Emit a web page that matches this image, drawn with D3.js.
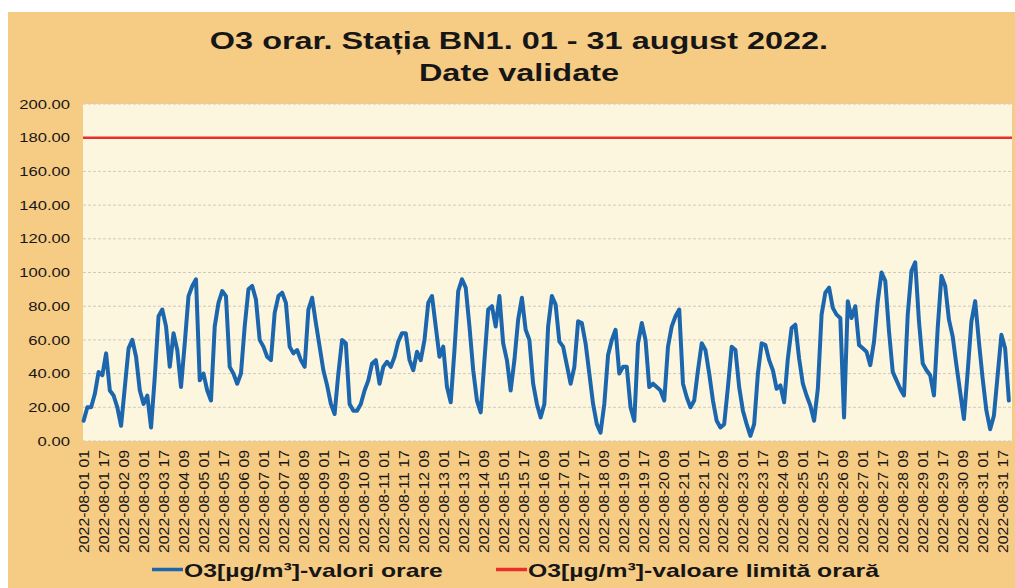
<!DOCTYPE html>
<html>
<head>
<meta charset="utf-8">
<script src="https://cdn.jsdelivr.net/npm/d3@7"></script>
<style>
  body { margin: 0; background: #fff; }
  svg { display: block; font-family: "Liberation Sans", Arial, sans-serif; }
</style>
</head>
<body>
<svg width="1015" height="588"></svg>
<script>

// hourly O3, one value every 3 hours starting 2022-08-01 01
var o3Values = [
  12, 20, 20, 28, 41, 39, 52, 30, 27, 20,
  9, 32, 55, 60, 50, 30, 22, 27, 8, 38,
  74, 78, 68, 44, 64, 54, 32, 58, 86, 92,
  96, 36, 40, 30, 24, 68, 82, 89, 86, 44,
  40, 34, 40, 68, 90, 92, 84, 60, 56, 50,
  48, 76, 86, 88, 82, 56, 52, 54, 48, 44,
  78, 85,
  70, 56, 42, 33, 22, 16, 40, 60, 58, 22,
  18, 18, 22, 30, 36, 46, 48, 34, 44, 47,
  44, 50, 59, 64, 64, 48, 42, 53, 48, 60,
  82, 86, 68, 50, 56, 32, 23, 54, 89, 96,
  91, 68, 42, 24, 17, 48, 78, 80, 68, 86,
  58, 48, 30, 48, 72, 85, 66, 60, 34, 22,
  14,
  22, 68, 86, 81, 59, 56, 45, 34, 44, 71,
  70, 58, 40, 22, 10, 5, 22, 51, 60, 66,
  40, 44, 44, 20, 12, 58, 70, 60, 32, 34,
  32, 30, 24, 56, 68, 74, 78, 34, 26, 20,
  24, 42, 58, 54, 40, 24, 12, 8, 10, 32,
  56, 54, 32, 18, 10, 3, 10, 40, 58, 57,
  48,
  42, 31, 33, 23, 49, 67, 69, 49, 34, 27,
  21, 12, 31, 75, 88, 91, 79, 75, 73, 14,
  83, 73, 80, 57, 55, 53, 45, 59, 83, 100,
  95, 65, 41, 36, 31, 27, 75, 101, 106, 71,
  46, 42, 39, 27, 67, 98, 92, 72, 62, 45,
  29, 13, 41, 71, 83, 59, 37, 18, 7, 15,
  39, 63, 55, 24
];
var stepHours = 3;
var totalHours = 744;
var limitValue = 180;

var yTicks = [0, 20, 40, 60, 80, 100, 120, 140, 160, 180, 200];
var labelEvery = 16;
var xLabels = [
  "2022-08-01 01", "2022-08-01 17", "2022-08-02 09", "2022-08-03 01", "2022-08-03 17",
  "2022-08-04 09", "2022-08-05 01", "2022-08-05 17", "2022-08-06 09", "2022-08-07 01",
  "2022-08-07 17", "2022-08-08 09", "2022-08-09 01", "2022-08-09 17", "2022-08-10 09",
  "2022-08-11 01", "2022-08-11 17", "2022-08-12 09", "2022-08-13 01", "2022-08-13 17",
  "2022-08-14 09", "2022-08-15 01", "2022-08-15 17", "2022-08-16 09", "2022-08-17 01",
  "2022-08-17 17", "2022-08-18 09", "2022-08-19 01", "2022-08-19 17", "2022-08-20 09",
  "2022-08-21 01", "2022-08-21 17", "2022-08-22 09", "2022-08-23 01", "2022-08-23 17",
  "2022-08-24 09", "2022-08-25 01", "2022-08-25 17", "2022-08-26 09", "2022-08-27 01",
  "2022-08-27 17", "2022-08-28 09", "2022-08-29 01", "2022-08-29 17", "2022-08-30 09",
  "2022-08-31 01", "2022-08-31 17"
];

var titleLines = ["O3 orar. Stația BN1. 01 - 31 august 2022.", "Date validate"];
var legendItems = [
  {name: "O3[µg/m³]-valori orare", color: "#1c66ad"},
  {name: "O3[µg/m³]-valoare limită orară", color: "#e5312a"}
];

var width = 1015, height = 588;
var plot = {left: 83, right: 1012, top: 104, bottom: 441};

var x = d3.scaleLinear().domain([0, totalHours]).range([plot.left, plot.right]);
var y = d3.scaleLinear().domain([0, 200]).range([plot.bottom, plot.top]);

var svg = d3.select("svg");

// the scanned chart has its text stretched sideways
function stretch(sel, k) {
  sel.each(function() {
    var w = this.getComputedTextLength();
    d3.select(this).attr("textLength", w * k).attr("lengthAdjust", "spacingAndGlyphs");
  });
}

svg.append("rect")
  .attr("x", 8).attr("y", 12)
  .attr("width", width - 8).attr("height", height - 12)
  .attr("fill", "#f6cb84");

svg.append("rect")
  .attr("x", plot.left).attr("y", plot.top)
  .attr("width", plot.right - plot.left).attr("height", plot.bottom - plot.top)
  .attr("fill", "#fdf6df");

// grid
svg.append("g")
  .selectAll("line")
  .data(yTicks)
  .enter().append("line")
  .attr("x1", plot.left).attr("x2", plot.right)
  .attr("y1", d => y(d)).attr("y2", d => y(d))
  .attr("stroke", "#cfcac0")
  .attr("stroke-width", 1)
  .attr("stroke-dasharray", "3,2");

// title
svg.append("g").selectAll("text")
  .data(titleLines)
  .enter().append("text")
  .attr("x", 519)
  .attr("y", (d, i) => 48.5 + i * 32.5)
  .attr("text-anchor", "middle")
  .attr("font-size", "23.5px")
  .attr("font-weight", "bold")
  .attr("fill", "#161616")
  .text(d => d)
  .call(stretch, 1.38);

// y axis
var yAxis = svg.append("g")
  .attr("transform", `translate(${plot.left},0)`)
  .call(d3.axisLeft(y).tickValues(yTicks).tickFormat(d3.format(".2f")).tickSize(0).tickPadding(13));
yAxis.select(".domain").remove();
yAxis.selectAll(".tick text")
  .attr("font-size", "12.8px")
  .attr("font-family", "Liberation Sans, Arial, sans-serif")
  .attr("fill", "#161616")
  .call(stretch, 1.3);

// x axis
var xAxis = svg.append("g")
  .attr("transform", `translate(0,${plot.bottom})`)
  .call(d3.axisBottom(x)
    .tickValues(xLabels.map((d, i) => i * labelEvery + 0.5))
    .tickFormat((d, i) => xLabels[i])
    .tickSize(0));
xAxis.select(".domain").remove();
xAxis.selectAll(".tick text")
  .attr("font-size", "14px")
  .attr("font-family", "Liberation Sans, Arial, sans-serif")
  .attr("fill", "#161616")
  .attr("transform", "rotate(-90)")
  .attr("text-anchor", "end")
  .attr("x", -9)
  .attr("y", 0)
  .attr("dy", "0.36em")
  .attr("textLength", 103)
  .attr("lengthAdjust", "spacingAndGlyphs");

// limit line
svg.append("line")
  .attr("x1", plot.left).attr("x2", plot.right)
  .attr("y1", y(limitValue)).attr("y2", y(limitValue))
  .attr("stroke", legendItems[1].color)
  .attr("stroke-width", 2.5);

// hourly values
svg.append("path")
  .datum(o3Values)
  .attr("fill", "none")
  .attr("stroke", legendItems[0].color)
  .attr("stroke-width", 4)
  .attr("stroke-linejoin", "round")
  .attr("stroke-linecap", "round")
  .attr("d", d3.line()
    .x((d, i) => x(i * stepHours + 0.5))
    .y(d => y(d)));

// legend
var legendX = [152, 496];
var legend = svg.append("g").selectAll("g")
  .data(legendItems)
  .enter().append("g")
  .attr("transform", (d, i) => `translate(${legendX[i]},569.5)`);

legend.append("line")
  .attr("x1", 0).attr("x2", 31)
  .attr("stroke", d => d.color)
  .attr("stroke-width", 3.5);

legend.append("text")
  .attr("x", 32)
  .attr("y", 7.3)
  .attr("font-size", "18.6px")
  .attr("font-weight", "bold")
  .attr("fill", "#161616")
  .text(d => d.name)
  .call(stretch, 1.33);

</script>
</body>
</html>
